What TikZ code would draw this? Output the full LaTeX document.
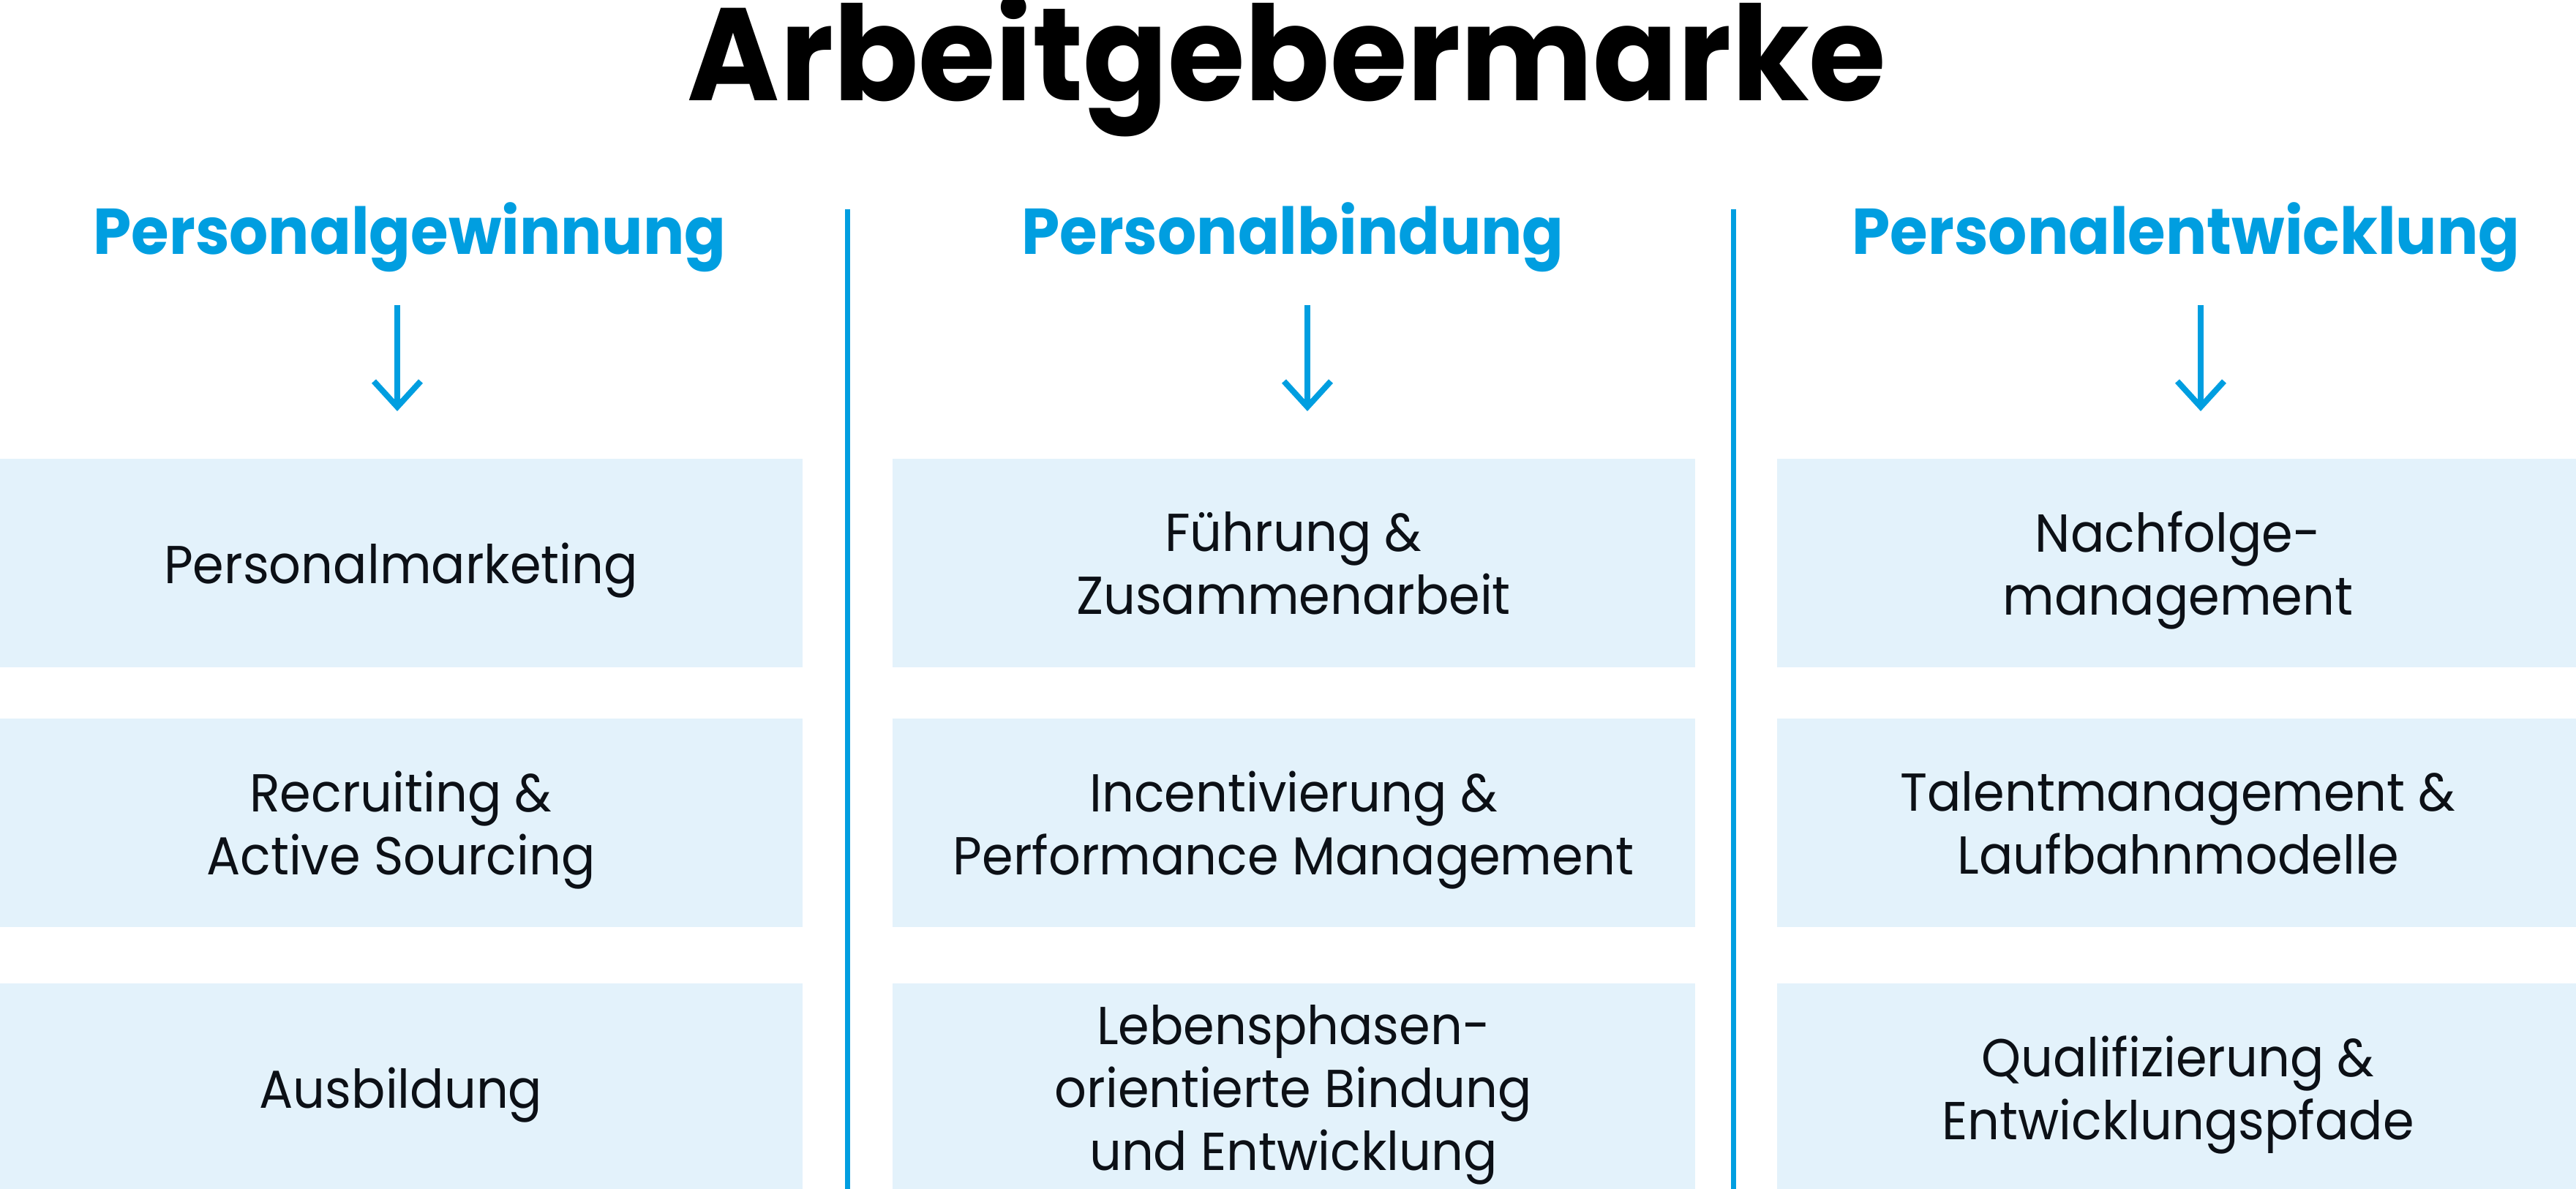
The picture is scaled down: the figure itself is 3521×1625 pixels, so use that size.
\documentclass[tikz,border=0pt]{standalone}
\usepackage{fontspec}
\setmainfont{Poppins}
\newfontfamily\bodyfont{Poppins}[FakeStretch=0.94]
\newfontfamily\headfont{Poppins}[FakeStretch=0.945]
\newfontfamily\titlefont{Poppins}[FakeStretch=0.95]
\usetikzlibrary{arrows.meta, positioning}
\definecolor{markblue}{RGB}{0,158,224}
\definecolor{boxblue}{RGB}{227,242,251}
\definecolor{textblack}{RGB}{12,16,22}

\begin{document}
\begin{tikzpicture}[x=0.2pt,y=-0.2pt,>={Straight Barb[length=7pt,width=12.8pt]},node distance=13.6pt and 24.2pt]
    \tikzstyle{box}=[rectangle,fill=boxblue,minimum width=219.4pt,minimum height=57pt,inner sep=0pt,align=center,text depth=0pt,text=textblack,font=\bodyfont\fontsize{14.6}{17.2}\selectfont]
    \tikzstyle{head}=[anchor=base,text=markblue,font=\headfont\bfseries\fontsize{17.7}{20}\selectfont]
    \tikzstyle{arr}=[->,draw=markblue,line width=1.6pt,shorten >=12.8pt]
    \tikzstyle{divider}=[draw=markblue,line width=1.4pt]

    \useasboundingbox (0,0) rectangle (3521,1625);

    \node[anchor=base,font=\titlefont\bfseries\fontsize{36}{40}\selectfont] (title) at (1759,138) {Arbeitgebermarke};

    \node[head] (hg) at (560,348) {Personalgewinnung};
    \node[head] (hb) at (1767,348) {Personalbindung};
    \node[head] (he) at (2988,348) {Personalentwicklung};

    \node[box] (g1) at (548,769.5) {Personalmarketing};
    \node[box] (g2) [below=of g1] {Recruiting \&\\Active Sourcing};
    \node[box] (g3) [below=15pt of g2] {Ausbildung};
    \node[box] (b1) [right=of g1] {Führung \&\\Zusammenarbeit};
    \node[box] (b2) [below=of b1] {Incentivierung \&\\Performance Management};
    \node[box] (b3) [below=15pt of b2] {Lebensphasen-\\orientierte Bindung\\und Entwicklung};
    \node[box] (e1) [right=22pt of b1] {Nachfolge-\\management};
    \node[box] (e2) [below=of e1] {Talentmanagement \&\\Laufbahnmodelle};
    \node[box] (e3) [below=15pt of e2] {Qualifizierung \&\\Entwicklungspfade};

    \coordinate (ag) at (543,417);
    \coordinate (ab) at (1787,417);
    \coordinate (ae) at (3008,417);
    \draw[arr] (ag) -- (ag |- g1.north);
    \draw[arr] (ab) -- (ab |- b1.north);
    \draw[arr] (ae) -- (ae |- e1.north);

    \coordinate (d1) at (1158,286);
    \coordinate (d2) at (2369,286);
    \draw[divider] (d1) -- (d1 |- g3.south);
    \draw[divider] (d2) -- (d2 |- b3.south);
\end{tikzpicture}
\end{document}
